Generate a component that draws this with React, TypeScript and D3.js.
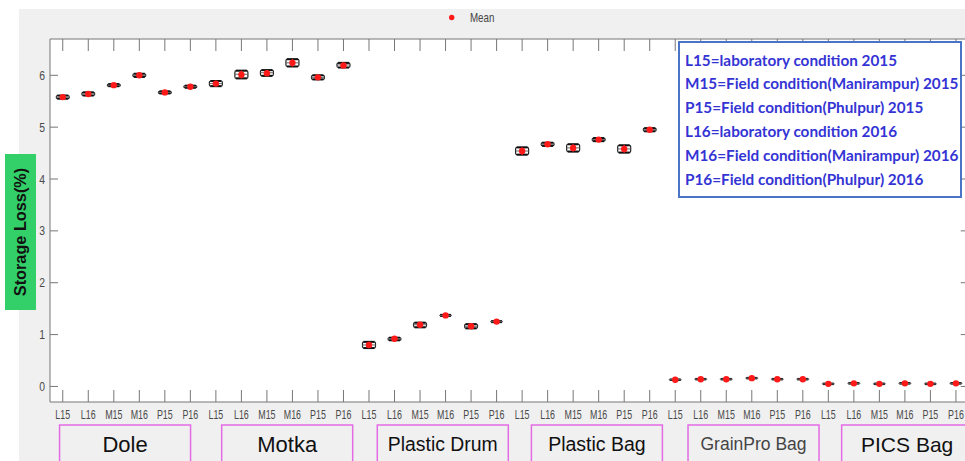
import React from "react";
import * as d3 from "d3";

const containers = ["Dole", "Motka", "Plastic Drum", "Plastic Bag", "GrainPro Bag", "PICS Bag"];
const conditions = ["L15", "L16", "M15", "M16", "P15", "P16"];

// storage loss (%) per container x condition, in order of containers then conditions
const meanLoss = [
  5.58, 5.64, 5.81, 6.0, 5.67, 5.78,
  5.84, 6.01, 6.04, 6.24, 5.96, 6.19,
  0.8, 0.92, 1.19, 1.37, 1.16, 1.25,
  4.54, 4.67, 4.6, 4.76, 4.58, 4.95,
  0.13, 0.14, 0.14, 0.16, 0.14, 0.14,
  0.05, 0.06, 0.05, 0.06, 0.05, 0.06,
];
const q1Loss = [
  5.55, 5.61, 5.79, 5.97, 5.65, 5.76,
  5.79, 5.94, 5.99, 6.17, 5.92, 6.15,
  0.74, 0.89, 1.14, 1.36, 1.12, 1.24,
  4.47, 4.64, 4.53, 4.73, 4.51, 4.92,
  0.125, 0.135, 0.135, 0.155, 0.135, 0.135,
  0.045, 0.055, 0.045, 0.055, 0.045, 0.055,
];
const q3Loss = [
  5.61, 5.67, 5.83, 6.03, 5.69, 5.8,
  5.89, 6.09, 6.1, 6.31, 6.0, 6.24,
  0.86, 0.94, 1.23, 1.38, 1.2, 1.26,
  4.61, 4.7, 4.67, 4.79, 4.65, 4.98,
  0.135, 0.145, 0.145, 0.165, 0.145, 0.145,
  0.055, 0.065, 0.055, 0.065, 0.055, 0.065,
];
const medianLoss = [
  5.58, 5.64, 5.81, 6.0, 5.67, 5.78,
  5.84, 6.02, 6.05, 6.24, 5.96, 6.2,
  0.8, 0.92, 1.19, 1.37, 1.16, 1.25,
  4.54, 4.67, 4.6, 4.76, 4.58, 4.95,
  0.13, 0.14, 0.14, 0.16, 0.14, 0.14,
  0.05, 0.06, 0.05, 0.06, 0.05, 0.06,
];
const yTicks = [0, 1, 2, 3, 4, 5, 6];
const legendLines = [
  "L15=laboratory condition 2015",
  "M15=Field condition(Manirampur) 2015",
  "P15=Field condition(Phulpur) 2015",
  "L16=laboratory condition 2016",
  "M16=Field condition(Manirampur) 2016",
  "P16=Field condition(Phulpur) 2016",
];

// layout of the hand-placed container label boxes
const labelOffsets = [-1.5, 7.5, 10, 11, 14.5, 15];
const labelFontSizes = [22, 22, 19.4, 19.5, 17.5, 21];
const labelColors = ["#111", "#111", "#111", "#111", "#444", "#111"];

const W = 965;
const H = 461;
const plotL = 50;
const plotT = 39;
const plotB = 402;
const plotR = 968.7;

export default function App() {
  const n = containers.length * conditions.length;
  const x = d3.scaleLinear().domain([0.5, n + 0.5]).range([plotL, plotR]);
  const y = d3.scaleLinear().domain([-0.3, 6.7]).range([plotB, plotT]);
  const items = d3.range(n).map((i) => ({
    i,
    pos: i + 1,
    label: conditions[i % conditions.length],
    mean: meanLoss[i],
    q1: q1Loss[i],
    q3: q3Loss[i],
    med: medianLoss[i],
  }));
  const boxW = 13;
  const axisColor = "#777";
  const labelColor = "#4a4a4a";
  const tickFont = "Arial, 'Liberation Sans', sans-serif";

  return (
    <svg
      width={W}
      height={H}
      style={{ position: "absolute", left: 0, top: 0, background: "#fff" }}
      fontFamily={tickFont}
    >
      <rect x={19} y={9} width={W - 19} height={H - 9} fill="#f0f0f0" />
      <rect x={plotL} y={plotT} width={plotR - plotL} height={plotB - plotT} fill="#fff" />

      {/* Mean legend */}
      <circle cx={451.7} cy={17.5} r={2.7} fill="#ff1a1a" />
      <text x={470} y={22} fontSize={12.5} fill="#444" transform="translate(470,0) scale(0.78,1) translate(-470,0)">
        Mean
      </text>

      {/* axes frame */}
      <g stroke={axisColor} strokeWidth={1} fill="none">
        <line x1={plotL} x2={plotR} y1={plotT} y2={plotT} />
        <line x1={plotL} x2={plotR} y1={plotB} y2={plotB} />
        <line x1={plotL} x2={plotL} y1={plotT} y2={plotB} />
        <line x1={plotR} x2={plotR} y1={plotT} y2={plotB} />
        {items.map((d) => (
          <g key={"xt" + d.i}>
            <line x1={x(d.pos)} x2={x(d.pos)} y1={plotB} y2={plotB - 12} />
            <line x1={x(d.pos)} x2={x(d.pos)} y1={plotT} y2={plotT + 12} />
          </g>
        ))}
        {yTicks.map((t) => (
          <g key={"yt" + t}>
            <line x1={plotL} x2={plotL + 8} y1={y(t)} y2={y(t)} />
            <line x1={plotR} x2={plotR - 8} y1={y(t)} y2={y(t)} />
          </g>
        ))}
      </g>

      {/* y tick labels */}
      {yTicks.map((t) => (
        <text
          key={"yl" + t}
          x={45}
          y={y(t) + 4.5}
          fontSize={13}
          fill={labelColor}
          textAnchor="end"
          transform={`translate(45,0) scale(0.8,1) translate(-45,0)`}
        >
          {t}
        </text>
      ))}

      {/* x tick labels */}
      {items.map((d) => (
        <text
          key={"xl" + d.i}
          x={x(d.pos)}
          y={419.5}
          fontSize={12}
          fill={labelColor}
          textAnchor="middle"
          transform={`translate(${x(d.pos)},0) scale(0.74,1) translate(${-x(d.pos)},0)`}
        >
          {d.label}
        </text>
      ))}

      {/* boxes */}
      {items.map((d) => {
        const cx = x(d.pos);
        const top = y(d.q3);
        const bot = y(d.q1);
        const h = Math.max(bot - top, 0);
        return (
          <g key={"b" + d.i}>
            {h > 2 ? (
              <rect
                x={cx - boxW / 2}
                y={top}
                width={boxW}
                height={h}
                fill="#fff"
                stroke="#222"
                strokeWidth={1.2}
                rx={1.5}
              />
            ) : null}
            <line x1={cx - boxW / 2 + 1} x2={cx + boxW / 2 - 1} y1={top} y2={top} stroke="#111" strokeWidth={2} />
            <line x1={cx - boxW / 2 + 1} x2={cx + boxW / 2 - 1} y1={bot} y2={bot} stroke="#111" strokeWidth={2} />
            <line x1={cx - boxW / 2} x2={cx + boxW / 2} y1={y(d.med)} y2={y(d.med)} stroke="#666" strokeWidth={1} />
            <line x1={cx} x2={cx} y1={top} y2={bot} stroke="#ff1a1a" strokeWidth={1.6} />
            <circle cx={cx} cy={y(d.mean)} r={3.2} fill="#ff1a1a" />
          </g>
        );
      })}

      {/* condition legend box */}
      <rect x={679} y={42} width={282} height={155} fill="#fff" stroke="#4a74c6" strokeWidth={2} />
      {legendLines.map((t, k) => (
        <text
          key={"lg" + k}
          x={685}
          y={65.5 + k * 23.8}
          fontSize={15.3}
          fontWeight="bold"
          fontFamily="Lato, 'Open Sans', sans-serif"
          fill="#3434d4"
        >
          {t}
        </text>
      ))}

      {/* y label */}
      <rect x={5} y={154} width={31} height={156} fill="#33d06a" />
      <text
        x={0}
        y={0}
        transform="translate(26,232) rotate(-90)"
        textAnchor="middle"
        fontSize={16.3}
        fontWeight="bold"
        fill="#111"
      >
        Storage Loss(%)
      </text>

      {/* container labels */}
      {containers.map((c, g) => {
        const cx = x(g * conditions.length + (conditions.length + 1) / 2) + labelOffsets[g];
        return (
          <g key={"c" + g}>
            <rect x={cx - 65.5} y={425} width={131} height={50} fill="#f0f0f0" stroke="#e36be3" strokeWidth={1.5} />
            <text
              x={cx}
              y={444}
              dominantBaseline="central"
              textAnchor="middle"
              fontSize={labelFontSizes[g]}
              fill={labelColors[g]}
            >
              {c}
            </text>
          </g>
        );
      })}
    </svg>
  );
}
